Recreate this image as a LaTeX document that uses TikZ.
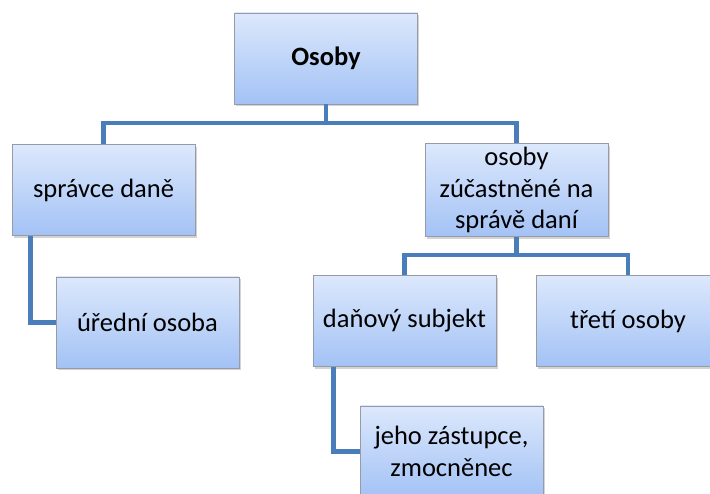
\documentclass[tikz,border=0pt]{standalone}
\usepackage{fontspec}
\setmainfont{Carlito}
\usetikzlibrary{shadows}
\definecolor{linkblue}{RGB}{74,126,187}
\definecolor{boxtop}{RGB}{220,232,252}
\definecolor{boxbot}{RGB}{163,194,245}
\definecolor{boxrim}{RGB}{150,155,165}

\begin{document}
\begin{tikzpicture}[x=1pt,y=-1pt,
  box/.style={rectangle,draw=boxrim,line width=0.8pt,top color=boxtop,bottom color=boxbot,
    minimum width=183pt,minimum height=91pt,align=center,font=\fontsize{26.5}{31.5}\selectfont,
    drop shadow={opacity=0.35,shadow xshift=1.5pt,shadow yshift=-2.5pt}},
  link/.style={draw=linkblue,line width=4.5pt}]
\useasboundingbox (0,0) rectangle (710,494);
\node[box,font=\fontsize{26.5}{31.5}\selectfont\bfseries] (osoby) at (326,58.5) {Osoby};
\node[box] (spravce) at (103.5,190) {správce daně};
\node[box] (ucast) at (516.5,190) {osoby\\zúčastněné na\\správě daní};
\node[box] (uredni) at (147.5,322.5) {úřední osoba};
\node[box] (danovy) at (404.5,321) {daňový subjekt};
\node[box] (treti) at (628,321) {třetí osoby};
\node[box] (zastupce) at (451.5,451.5) {jeho zástupce,\\zmocněnec};
% connectors
\coordinate (b1) at (326,123);
\coordinate (b2) at (516.5,255);
\draw[link] (osoby) -- (b1);
\draw[link] (spravce.north) |- (b1) -| (ucast.north);
\draw[link] (ucast) -- (b2);
\draw[link] (danovy.north) |- (b2) -| (treti.north);
\draw[link] ([xshift=19pt]spravce.south west) |- (uredni.west);
\draw[link] ([xshift=21pt]danovy.south west) |- (zastupce.west);
\end{tikzpicture}
\end{document}
